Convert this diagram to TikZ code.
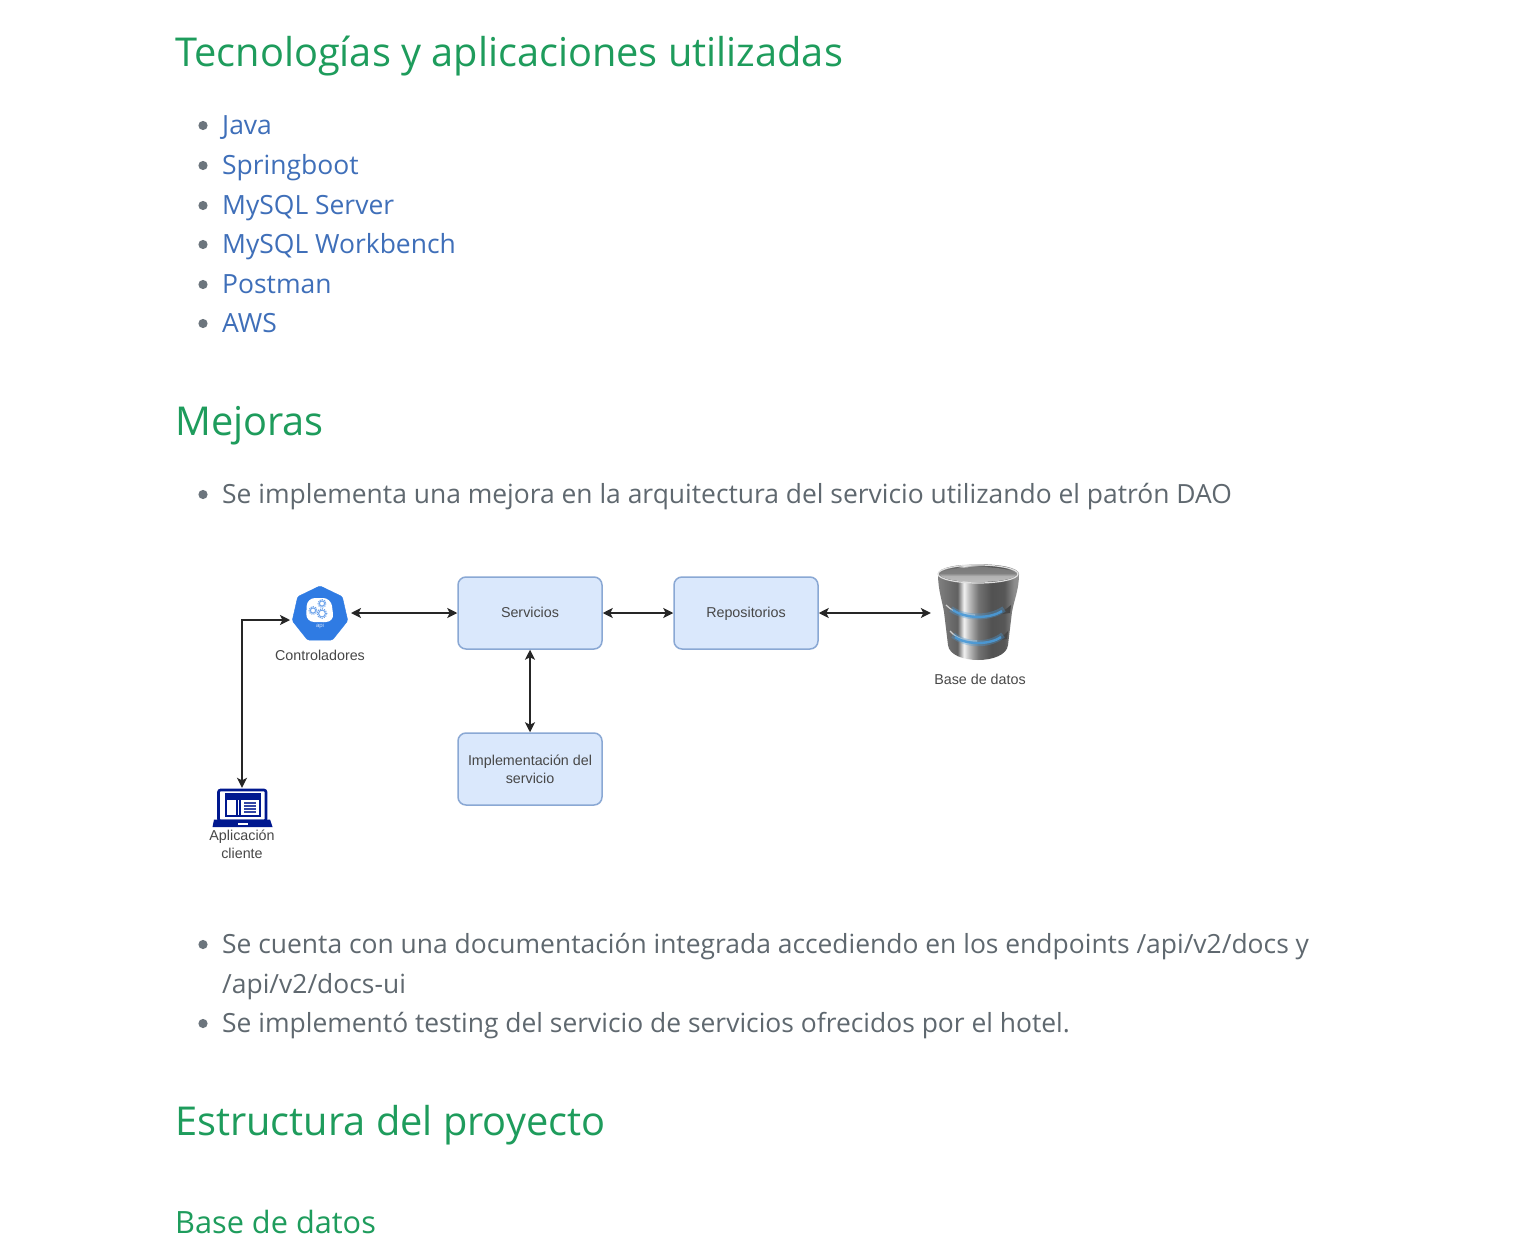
\documentclass[tikz,border=0pt]{standalone}
\usepackage{fontspec}
\setmainfont{Open Sans}
\newfontfamily\drawfont{Liberation Sans}
\usepackage{tikz}
\usetikzlibrary{arrows.meta,shapes.geometric}
\definecolor{head green}{HTML}{1E9C5C}
\definecolor{link blue}{HTML}{3F6FB9}
\definecolor{body gray}{HTML}{5F686F}
\definecolor{dot gray}{HTML}{6C757D}
\definecolor{box fill}{HTML}{DAE8FC}
\definecolor{box line}{HTML}{8AA8D4}
\definecolor{api blue}{HTML}{2F7BE3}
\definecolor{laptop blue}{HTML}{00188F}
\definecolor{band blue}{HTML}{4A9AD8}
\pgfdeclarehorizontalshading{dbmetal}{100bp}{
	color(0bp)=(black!45);
	color(25bp)=(black!50);
	color(37bp)=(black!62);
	color(41bp)=(black!5);
	color(44bp)=(black!25);
	color(50bp)=(black!55);
	color(58bp)=(black!68);
	color(66bp)=(black!66);
	color(72bp)=(black!45);
	color(100bp)=(black!30)}
\pgfdeclareverticalshading{dbrim}{100bp}{
	color(0bp)=(black!22);
	color(45bp)=(black!30);
	color(55bp)=(black!50);
	color(100bp)=(black!55)}
\tikzset{
	heading/.style = {anchor=base west, inner sep=0, text=head green, font=\fontsize{39.75}{39.75}\selectfont},
	subheading/.style = {anchor=base west, inner sep=0, text=head green, font=\fontsize{30.7}{30.7}\selectfont},
	linkitem/.style = {anchor=base west, inner sep=0, text=link blue, font=\fontsize{26.45}{26.45}\selectfont},
	bodyitem/.style = {anchor=base west, inner sep=0, text=body gray, font=\fontsize{26.42}{26.42}\selectfont},
	flowbox/.style = {draw=box line, fill=box fill, line width=1.5pt, rounded corners=8pt,
		minimum width=144pt, minimum height=72pt, inner sep=0, align=center, text=black!72,
		font=\drawfont\fontsize{14.3}{18}\selectfont},
	oneline/.style = {text height=12pt, text depth=2.8pt},
	caption/.style = {inner sep=0, align=center, text=black!72, font=\drawfont\fontsize{14.3}{18}\selectfont},
	link/.style = {<->, line width=1.4pt, black!85, >={Stealth[length=10pt,width=10pt,inset=2.5pt]}}
}

\begin{document}
\begin{tikzpicture}[x=1pt, y=-1pt]
	\useasboundingbox (0, 0) rectangle (1531, 1257);
	\fill[white] (0, 0) rectangle (1531, 1257);
	% page text
	\node[heading] (techtitle) at (175, 67) {Tecnologías y aplicaciones utilizadas};
	\node[linkitem] (java) at (222, 135) {Java};
	\node[linkitem] (spring) at (222, 175) {Springboot};
	\node[linkitem] (mysqlserver) at (222, 215) {MySQL Server};
	\node[linkitem] (workbench) at (222, 254) {MySQL Workbench};
	\node[linkitem] (postman) at (222, 294) {Postman};
	\node[linkitem] (aws) at (222, 332.5) {AWS};
	\node[heading] (improvetitle) at (175, 435) {Mejoras};
	\node[bodyitem] (daoitem) at (222, 503) {Se implementa una mejora en la arquitectura del servicio utilizando el patrón DAO};
	\node[bodyitem] (docsitem) at (222, 953) {Se cuenta con una documentación integrada accediendo en los endpoints /api/v2/docs y};
	\node[bodyitem] (docsitemb) at (222, 993) {/api/v2/docs-ui};
	\node[bodyitem] (testitem) at (222, 1032) {Se implementó testing del servicio de servicios ofrecidos por el hotel.};
	\node[heading] (structtitle) at (175, 1135) {Estructura del proyecto};
	\node[subheading] (dbtitle) at (175, 1233) {Base de datos};
	% bullets
	\fill[dot gray]
		(203, 125.5) circle (4.6) (203, 165.5) circle (4.6) (203, 205.5) circle (4.6)
		(203, 244.5) circle (4.6) (203, 284.5) circle (4.6) (203, 323.5) circle (4.6)
		(203, 494.5) circle (4.6) (203, 944.5) circle (4.6) (203, 1023.5) circle (4.6);
	% boxes
	\node[flowbox, oneline] (servicios) at (530, 613) {Servicios};
	\node[flowbox, oneline] (repos) at (746, 613) {Repositorios};
	\node[flowbox] (impl) at (530, 769) {Implementación del\\servicio};
	% controller icon
	\node[regular polygon, regular polygon sides=7, minimum size=57pt, inner sep=0,
		fill=api blue, draw=api blue, rounded corners=1.5pt] (ctrl) at (320, 614.4) {};
	\fill[white, rounded corners=8pt] (307, 598) -- (331, 598) -- (334, 622) -- (306, 622) -- cycle;
	\draw[api blue!70!white, line width=1pt] (322, 603.5) circle (2.6) (313, 610.5) circle (2.6) (322, 613.5) circle (3.4);
	\draw[api blue!70!white, line width=1.1pt, dash pattern=on 1.1pt off 1.1pt] (322, 603.5) circle (3.9) (313, 610.5) circle (3.9) (322, 613.5) circle (4.8);
	\node[inner sep=0, text=white!80!api blue, font=\drawfont\fontsize{6}{6}\selectfont] (apilabel) at (320, 626) {api};
	\node[caption] (ctrllabel) at (320, 655) {Controladores};
	\coordinate (ctrlw) at (290, 620);
	\coordinate (ctrle) at (351, 613);
	% client icon
	\node[minimum width=59pt, minimum height=40pt, inner sep=0] (client) at (242, 808) {};
	\draw[laptop blue, line width=2.6pt, fill=white, rounded corners=2pt] (218.5, 790) rectangle (266, 821);
	\fill[laptop blue] (214, 819.5) -- (270, 819.5) -- (272.5, 827) -- (212.5, 827) -- cycle;
	\fill[white] (238, 822.5) rectangle (248, 824.5);
	\draw[laptop blue, line width=1.6pt] (226, 794) rectangle (260, 816) (237, 794) -- (237, 816) (240, 794) -- (240, 816);
	\fill[laptop blue] (226, 794) rectangle (260, 800);
	\draw[laptop blue!80!white, line width=1.1pt] (244, 803) -- (256, 803) (244, 806) -- (256, 806) (244, 809) -- (256, 809) (244, 812) -- (256, 812);
	\node[caption] (clientlabel) at (242, 844) {Aplicación\\cliente};
	% database icon
	\node[minimum width=94pt, minimum height=96pt, inner sep=0] (db) at (978, 613) {};
	\shade[shading=dbmetal]
		(938, 574) .. controls (938, 561) and (1019, 561) .. (1019, 574)
		.. controls (1019, 590) and (1014, 600) .. (1012, 612)
		-- (1008, 645)
		.. controls (1006, 665) and (950, 665) .. (948, 645)
		-- (944, 612)
		.. controls (942, 600) and (938, 590) .. cycle;
	\draw[black!12, line width=1.2pt] (978, 574) ellipse (40 and 9);
	\shade[shading=dbrim] (978, 574.5) ellipse (38 and 7.5);
	% bands
	\fill[black!72] (1011, 605) .. controls (1002, 613) and (995, 615) .. (988, 616) -- (1010, 613) -- cycle;
	\fill[black!72] (1008, 631) .. controls (1001, 639) and (995, 641) .. (988, 642) -- (1007, 639) -- cycle;
	\draw[black!18, line width=1.2pt] (946, 605) .. controls (955, 614) and (965, 615) .. (975, 615);
	\draw[black!18, line width=1.2pt] (950, 631) .. controls (958, 640) and (968, 641) .. (977, 641);
	\draw[band blue, opacity=.35, line width=6pt] (951, 609) .. controls (965, 619) and (990, 619) .. (1004, 609);
	\draw[band blue, opacity=.9, line width=2.4pt] (953, 610) .. controls (965, 619) and (990, 619) .. (1002, 611);
	\draw[band blue, opacity=.35, line width=6pt] (953, 635) .. controls (966, 646) and (990, 646) .. (1003, 635);
	\draw[band blue, opacity=.9, line width=2.4pt] (955, 637) .. controls (966, 645) and (990, 645) .. (1001, 637);
	\node[caption] (dblabel) at (980, 679) {Base de datos};
	% arrows
	\draw[link] (ctrle) -- (servicios.west);
	\draw[link] (servicios.east) -- (repos.west);
	\draw[link] (repos.east) -- (db.west);
	\draw[link] (servicios.south) -- (impl.north);
	\draw[link] (client.north) |- (ctrlw);
\end{tikzpicture}
\end{document}
